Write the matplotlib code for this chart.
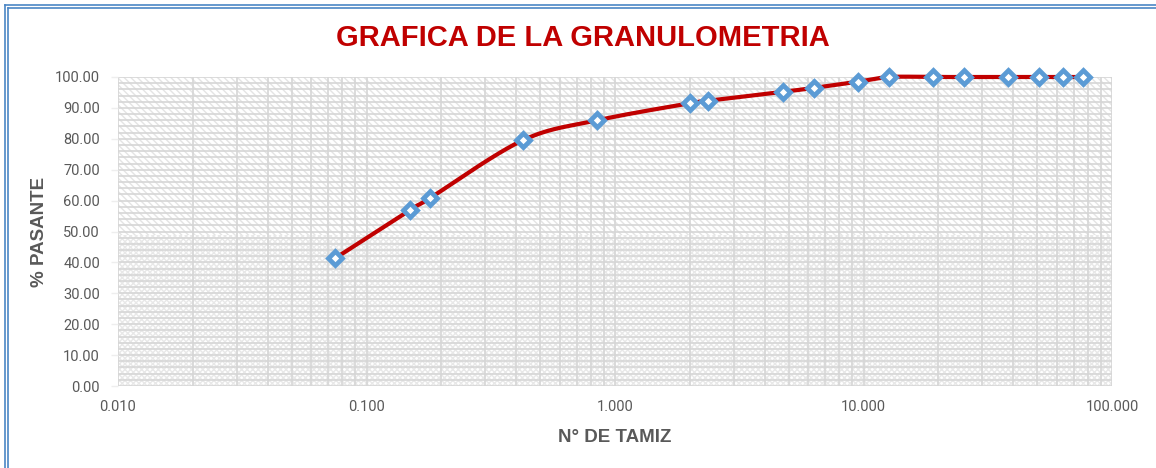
import numpy as np
import matplotlib
matplotlib.use("Agg")
import matplotlib.pyplot as plt
from matplotlib.patches import Rectangle
from matplotlib.lines import Line2D
from matplotlib.ticker import FixedLocator, MultipleLocator, FuncFormatter, LogLocator

# ---- data ----
abertura_mm = [76.2, 63.5, 50.8, 38.1, 25.4, 19.05, 12.7, 9.525, 6.35, 4.75,
               2.36, 2.00, 0.85, 0.425, 0.18, 0.15, 0.075]
pasante = [100.0, 100.0, 100.0, 100.0, 100.0, 100.0, 100.0, 98.5, 96.5, 95.2,
           92.3, 91.5, 86.0, 79.5, 60.8, 57.0, 41.4]
x_ticks = [0.01, 0.1, 1.0, 10.0, 100.0]
y_ticks = [0, 10, 20, 30, 40, 50, 60, 70, 80, 90, 100]

title = "GRAFICA DE LA GRANULOMETRIA"
xlabel = "N° DE TAMIZ"
ylabel = "% PASANTE"

RED = "#C00000"
BLUE = "#5B9BD5"
GREY = "#595959"
GRID = "#d6d6d6"

fig = plt.figure(figsize=(11.56, 4.68), dpi=100)
ax = fig.add_axes([118/1156, 1-386/468, (1112-118)/1156, (386-77)/468])
ax.set_xscale("log")
ax.set_xlim(0.01, 100)
ax.set_ylim(0, 100)

# plot area pattern fill
ax.add_patch(Rectangle((0, 0.49), 1, 0.51, transform=ax.transAxes, facecolor="white",
                       edgecolor="#e4e4e4", hatch="\\\\\\\\\\", lw=0, zorder=0))
ax.add_patch(Rectangle((0, 0), 1, 0.49, transform=ax.transAxes, facecolor="white",
                       edgecolor="#e8e8e8", hatch="xxxxxx", lw=0, zorder=0))

# grid
ax.xaxis.set_major_locator(FixedLocator(x_ticks))
ax.xaxis.set_minor_locator(LogLocator(base=10, subs=np.arange(2, 10)))
ax.yaxis.set_major_locator(FixedLocator(y_ticks))
ax.yaxis.set_minor_locator(MultipleLocator(2))
ax.grid(True, which="both", color=GRID, lw=1.2, zorder=1)
ax.set_axisbelow(True)
for s in ax.spines.values():
    s.set_visible(False)

ax.xaxis.set_major_formatter(FuncFormatter(lambda v, p: f"{v:.3f}"))
ax.xaxis.set_minor_formatter(FuncFormatter(lambda v, p: ""))
ax.yaxis.set_major_formatter(FuncFormatter(lambda v, p: f"{v:.2f}"))
ax.tick_params(which="both", length=0, colors=GREY, labelsize=10.5, pad=10)
ax.tick_params(axis="y", length=5, color="#eeeeee", width=1, pad=8)
for lab in ax.get_xticklabels() + ax.get_yticklabels():
    lab.set_fontfamily("Roboto")
    lab.set_color(GREY)

# smoothed line (Catmull-Rom in log-x space, like Excel's smoothed line)
lx = np.log10(np.array(abertura_mm))
py = np.array(pasante)
order = np.argsort(lx)
lx, py = lx[order], py[order]
P = np.column_stack([lx, py])
Pe = np.vstack([P[0], P, P[-1]])
curve = []
t = np.linspace(0, 1, 30)[:, None]
for i in range(1, len(Pe) - 2):
    p0, p1, p2, p3 = Pe[i-1], Pe[i], Pe[i+1], Pe[i+2]
    c = 0.5 * ((2*p1) + (-p0 + p2)*t + (2*p0 - 5*p1 + 4*p2 - p3)*t**2 + (-p0 + 3*p1 - 3*p2 + p3)*t**3)
    curve.append(c)
curve = np.vstack(curve)
ax.plot(10**curve[:, 0], curve[:, 1], color=RED, lw=3, zorder=3, clip_on=False,
        solid_capstyle="round")
ax.plot(abertura_mm, pasante, ls="none", marker="D", ms=7.5, mfc="white", mec=BLUE,
        mew=3.4, zorder=4, clip_on=False)

fig.text(583/1156, 1-38/468, title, ha="center", va="center", color=RED,
         fontsize=21, fontweight="bold", family="Liberation Sans")
fig.text(615/1156, 1-437/468, xlabel, ha="center", va="center", color=GREY,
         fontsize=13.5, fontweight="bold", family="Liberation Sans")
fig.text(40/1156, 1-232/468, ylabel, ha="center", va="center", color=GREY,
         fontsize=13.5, fontweight="bold", family="Liberation Sans", rotation=90)

# blue border (top and left, double line)
for off, w in [(5, 1.2), (7.5, 1.2)]:
    fig.add_artist(Line2D([off/1156, 1], [1-off/468, 1-off/468], color="#4A86C5", lw=w))
    fig.add_artist(Line2D([off/1156, off/1156], [0, 1-off/468], color="#4A86C5", lw=w))

fig.savefig("out.png", dpi=100)
